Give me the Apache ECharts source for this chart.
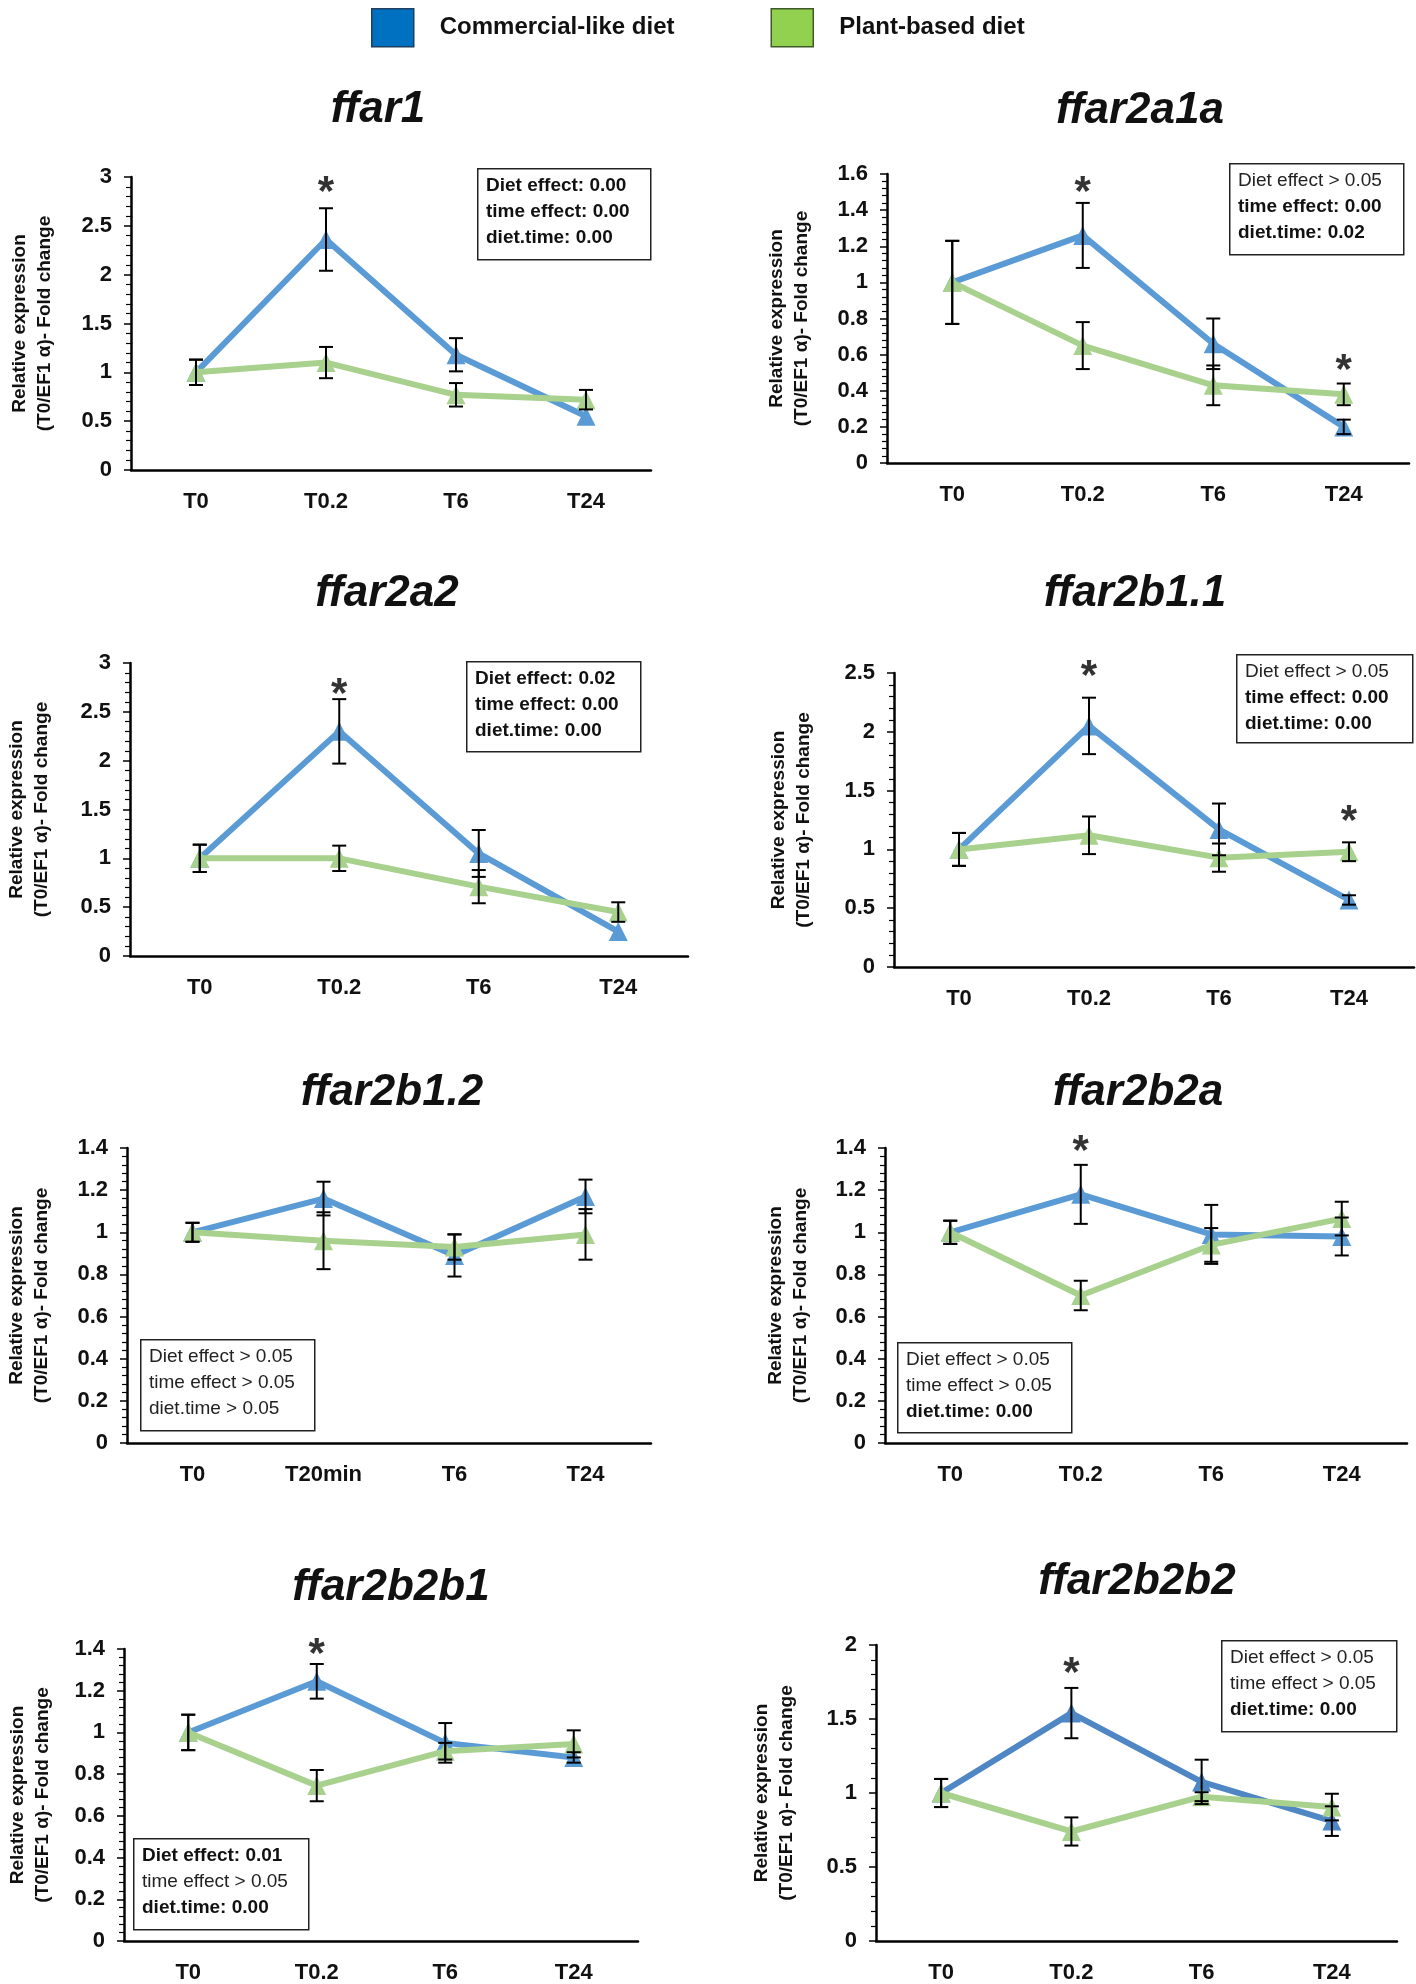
<!DOCTYPE html>
<html>
<head>
<meta charset="utf-8">
<script src="https://cdn.jsdelivr.net/npm/echarts@6/dist/echarts.min.js"></script>
<style>
html,body{margin:0;padding:0;background:#fff;}
#chart{width:1416px;height:1984px;}
</style>
</head>
<body>
<div id="chart"></div>
<script>
// ---------------- DATA ----------------
const categoriesT = ['T0', 'T0.2', 'T6', 'T24'];
const categoriesMin = ['T0', 'T20min', 'T6', 'T24'];
const seriesNames = ['Commercial-like diet', 'Plant-based diet'];
const geneNames = ['ffar1', 'ffar2a1a', 'ffar2a2', 'ffar2b1.1', 'ffar2b1.2', 'ffar2b2a', 'ffar2b2b1', 'ffar2b2b2'];
const yAxisLabel = 'Relative expression\n(T0/EF1 α)- Fold change';

const yMax = [3, 1.6, 3, 2.5, 1.4, 1.4, 1.4, 2];
const yStep = [0.5, 0.2, 0.5, 0.5, 0.2, 0.2, 0.2, 0.5];

const ffar1Commercial = [1.00, 2.36, 1.18, 0.55];
const ffar1CommercialErr = [0.13, 0.32, 0.17, 0];
const ffar1Plant = [1.00, 1.10, 0.77, 0.72];
const ffar1PlantErr = [0.13, 0.16, 0.12, 0.10];
const ffar1Stars = [[1, 2.92]];
const ffar1Stats = ['Diet effect: 0.00', 'time effect: 0.00', 'diet.time: 0.00'];
const ffar1StatsBold = [true, true, true];

const ffar2a1aCommercial = [1.00, 1.26, 0.66, 0.20];
const ffar2a1aCommercialErr = [0.23, 0.18, 0.14, 0.04];
const ffar2a1aPlant = [1.00, 0.65, 0.43, 0.38];
const ffar2a1aPlantErr = [0.23, 0.13, 0.11, 0.06];
const ffar2a1aStars = [[1, 1.545], [3, 0.555]];
const ffar2a1aStats = ['Diet effect > 0.05', 'time effect: 0.00', 'diet.time: 0.02'];
const ffar2a1aStatsBold = [false, true, true];

const ffar2a2Commercial = [1.00, 2.30, 1.05, 0.25];
const ffar2a2CommercialErr = [0.14, 0.33, 0.24, 0];
const ffar2a2Plant = [1.00, 1.00, 0.71, 0.45];
const ffar2a2PlantErr = [0.14, 0.13, 0.17, 0.10];
const ffar2a2Stars = [[1, 2.76]];
const ffar2a2Stats = ['Diet effect: 0.02', 'time effect: 0.00', 'diet.time: 0.00'];
const ffar2a2StatsBold = [true, true, true];

const ffar2b11Commercial = [1.00, 2.05, 1.17, 0.57];
const ffar2b11CommercialErr = [0.14, 0.24, 0.22, 0.04];
const ffar2b11Plant = [1.00, 1.12, 0.93, 0.98];
const ffar2b11PlantErr = [0.14, 0.16, 0.12, 0.08];
const ffar2b11Stars = [[1, 2.54], [3, 1.31]];
const ffar2b11Stats = ['Diet effect > 0.05', 'time effect: 0.00', 'diet.time: 0.00'];
const ffar2b11StatsBold = [false, true, true];

const ffar2b12Commercial = [1.00, 1.16, 0.89, 1.17];
const ffar2b12CommercialErr = [0.045, 0.08, 0.10, 0.08];
const ffar2b12Plant = [1.00, 0.96, 0.93, 0.99];
const ffar2b12PlantErr = [0.045, 0.135, 0.06, 0.12];
const ffar2b12Stars = [];
const ffar2b12Stats = ['Diet effect > 0.05', 'time effect > 0.05', 'diet.time > 0.05'];
const ffar2b12StatsBold = [false, false, false];

const ffar2b2aCommercial = [1.00, 1.18, 0.99, 0.98];
const ffar2b2aCommercialErr = [0.055, 0.14, 0.14, 0.09];
const ffar2b2aPlant = [1.00, 0.70, 0.94, 1.065];
const ffar2b2aPlantErr = [0.055, 0.07, 0.08, 0.08];
const ffar2b2aStars = [[1, 1.424]];
const ffar2b2aStats = ['Diet effect > 0.05', 'time effect > 0.05', 'diet.time: 0.00'];
const ffar2b2aStatsBold = [false, false, true];

const ffar2b2b1Commercial = [1.00, 1.245, 0.95, 0.88];
const ffar2b2b1CommercialErr = [0.085, 0.083, 0.095, 0.025];
const ffar2b2b1Plant = [1.00, 0.745, 0.91, 0.945];
const ffar2b2b1PlantErr = [0.085, 0.075, 0.04, 0.065];
const ffar2b2b1Stars = [[1, 1.414]];
const ffar2b2b1Stats = ['Diet effect: 0.01', 'time effect > 0.05', 'diet.time: 0.00'];
const ffar2b2b1StatsBold = [true, false, true];

const ffar2b2b2Commercial = [1.00, 1.54, 1.075, 0.81];
const ffar2b2b2CommercialErr = [0.095, 0.17, 0.15, 0.10];
const ffar2b2b2Plant = [1.00, 0.74, 0.975, 0.905];
const ffar2b2b2PlantErr = [0.095, 0.095, 0.03, 0.09];
const ffar2b2b2Stars = [[1, 1.865]];
const ffar2b2b2Stats = ['Diet effect > 0.05', 'time effect > 0.05', 'diet.time: 0.00'];
const ffar2b2b2StatsBold = [false, false, true];

// ---------------- ASSEMBLY ----------------
const panelData = [
  {cats: categoriesT, c: ffar1Commercial, ce: ffar1CommercialErr, p: ffar1Plant, pe: ffar1PlantErr, stars: ffar1Stars, stats: ffar1Stats, bold: ffar1StatsBold},
  {cats: categoriesT, c: ffar2a1aCommercial, ce: ffar2a1aCommercialErr, p: ffar2a1aPlant, pe: ffar2a1aPlantErr, stars: ffar2a1aStars, stats: ffar2a1aStats, bold: ffar2a1aStatsBold},
  {cats: categoriesT, c: ffar2a2Commercial, ce: ffar2a2CommercialErr, p: ffar2a2Plant, pe: ffar2a2PlantErr, stars: ffar2a2Stars, stats: ffar2a2Stats, bold: ffar2a2StatsBold},
  {cats: categoriesT, c: ffar2b11Commercial, ce: ffar2b11CommercialErr, p: ffar2b11Plant, pe: ffar2b11PlantErr, stars: ffar2b11Stars, stats: ffar2b11Stats, bold: ffar2b11StatsBold},
  {cats: categoriesMin, c: ffar2b12Commercial, ce: ffar2b12CommercialErr, p: ffar2b12Plant, pe: ffar2b12PlantErr, stars: ffar2b12Stars, stats: ffar2b12Stats, bold: ffar2b12StatsBold},
  {cats: categoriesT, c: ffar2b2aCommercial, ce: ffar2b2aCommercialErr, p: ffar2b2aPlant, pe: ffar2b2aPlantErr, stars: ffar2b2aStars, stats: ffar2b2aStats, bold: ffar2b2aStatsBold},
  {cats: categoriesT, c: ffar2b2b1Commercial, ce: ffar2b2b1CommercialErr, p: ffar2b2b1Plant, pe: ffar2b2b1PlantErr, stars: ffar2b2b1Stars, stats: ffar2b2b1Stats, bold: ffar2b2b1StatsBold},
  {cats: categoriesT, c: ffar2b2b2Commercial, ce: ffar2b2b2CommercialErr, p: ffar2b2b2Plant, pe: ffar2b2b2PlantErr, stars: ffar2b2b2Stars, stats: ffar2b2b2Stats, bold: ffar2b2b2StatsBold}
];

// layout (pixels): grid, title centre, stats box, y-name gap
const layout = [
  {grid: [131, 177, 520, 293], title: [378, 110], box: [477, 168, 173, 91], nameGap: 74},
  {grid: [887, 174, 522, 289], title: [1140, 111], box: [1229, 163, 174, 91], nameGap: 73},
  {grid: [130, 663, 558, 293], title: [387, 594], box: [466, 661, 174, 90], nameGap: 76},
  {grid: [894, 673, 520, 294], title: [1135, 594], box: [1236, 654, 176, 88], nameGap: 78},
  {grid: [127, 1148, 524, 295], title: [392, 1093], box: [140, 1339, 174, 91], nameGap: 73},
  {grid: [885, 1148, 522, 295], title: [1138, 1093], box: [897, 1342, 174, 90], nameGap: 72},
  {grid: [124, 1649, 514, 292], title: [391, 1588], box: [133, 1838, 175, 91], nameGap: 69},
  {grid: [876, 1645, 521, 296], title: [1137, 1582], box: [1221, 1640, 175, 91], nameGap: 77}
];

const FONT = "'Liberation Sans', Arial, sans-serif";
const BLUE = '#5b9bd5';
const BLUE_DARK = '#4f86c4';
const GREEN = '#a9d18e';

function renderErr(params, api) {
  const i = api.value(0), v = api.value(1), e = api.value(2);
  if (!e) return null;
  const top = api.coord([i, v + e]);
  const bot = api.coord([i, v - e]);
  const x = top[0], hw = 7;
  const st = {stroke: '#000', lineWidth: 2};
  return {type: 'group', children: [
    {type: 'line', shape: {x1: x, y1: top[1], x2: x, y2: bot[1]}, style: st},
    {type: 'line', shape: {x1: x - hw, y1: top[1], x2: x + hw, y2: top[1]}, style: st},
    {type: 'line', shape: {x1: x - hw, y1: bot[1], x2: x + hw, y2: bot[1]}, style: st}
  ]};
}

const grids = [], xAxes = [], yAxes = [], series = [], titles = [], graphics = [];

panelData.forEach((pd, k) => {
  const L = layout[k];
  grids.push({left: L.grid[0], top: L.grid[1], width: L.grid[2], height: L.grid[3], containLabel: false});
  xAxes.push({
    type: 'category', gridIndex: k, data: pd.cats, boundaryGap: true,
    axisLine: {show: true, lineStyle: {color: '#000', width: 2.5}},
    axisTick: {show: false},
    axisLabel: {margin: 21, fontSize: 22, fontWeight: 'bold', color: '#111', fontFamily: FONT, interval: 0},
    splitLine: {show: false}
  });
  yAxes.push({
    type: 'value', gridIndex: k, min: 0, max: yMax[k], interval: yStep[k],
    name: yAxisLabel, nameLocation: 'middle', nameGap: L.nameGap, nameRotate: 90,
    nameTextStyle: {fontSize: 19, fontWeight: 'bold', color: '#111', fontFamily: FONT, lineHeight: 25, align: 'center'},
    axisLine: {show: true, lineStyle: {color: '#000', width: 2.5}},
    axisTick: {show: true, inside: false, length: 7, lineStyle: {color: '#000', width: 1.5}},
    minorTick: {show: true, splitNumber: 5, length: 5, lineStyle: {color: '#000', width: 1.2}},
    axisLabel: {margin: 19, fontSize: 22, fontWeight: 'bold', color: '#111', fontFamily: FONT},
    splitLine: {show: false}
  });
  const blue = (k === 7) ? BLUE_DARK : BLUE;
  series.push({
    name: seriesNames[0], type: 'line', xAxisIndex: k, yAxisIndex: k, data: pd.c,
    symbol: 'triangle', symbolSize: 19, lineStyle: {color: blue, width: 6},
    itemStyle: {color: blue}, z: 2, animation: false, clip: false
  });
  series.push({
    name: seriesNames[1], type: 'line', xAxisIndex: k, yAxisIndex: k, data: pd.p,
    symbol: 'triangle', symbolSize: 19, lineStyle: {color: GREEN, width: 6},
    itemStyle: {color: GREEN}, z: 3, animation: false, clip: false
  });
  series.push({
    type: 'custom', xAxisIndex: k, yAxisIndex: k, renderItem: renderErr, z: 4,
    dimensions: ['x', 'y', 'err'], encode: {x: 0, y: 1},
    data: pd.c.map((v, i) => [i, v, pd.ce[i]]), animation: false, clip: false, silent: true
  });
  series.push({
    type: 'custom', xAxisIndex: k, yAxisIndex: k, renderItem: renderErr, z: 5,
    dimensions: ['x', 'y', 'err'], encode: {x: 0, y: 1},
    data: pd.p.map((v, i) => [i, v, pd.pe[i]]), animation: false, clip: false, silent: true
  });
  if (pd.stars.length) {
    series.push({
      type: 'scatter', xAxisIndex: k, yAxisIndex: k, data: pd.stars, symbolSize: 1,
      itemStyle: {color: 'rgba(0,0,0,0)'}, clip: false, animation: false, silent: true, z: 6,
      label: {show: true, position: 'inside', formatter: '*', fontSize: 42, fontWeight: 'bold', color: '#000',
              fontFamily: FONT, offset: [0, 9]}
    });
  }
  titles.push({
    text: geneNames[k], left: L.title[0], top: L.title[1], textAlign: 'center', textVerticalAlign: 'middle',
    padding: 0,
    textStyle: {fontSize: 44, fontWeight: 'bold', fontStyle: 'italic', color: '#111', fontFamily: FONT}
  });
  const b = L.box;
  graphics.push({type: 'rect', left: b[0], top: b[1], shape: {width: b[2], height: b[3]},
                 style: {fill: '#fff', stroke: '#222', lineWidth: 1.5}, z: 10});
  pd.stats.forEach((t, j) => {
    graphics.push({type: 'text', x: b[0] + 9, y: b[1] + 18 + j * 26, z: 11,
      style: {text: t, fontSize: 19, fontWeight: pd.bold[j] ? 'bold' : 'normal',
              fill: pd.bold[j] ? '#111' : '#222', fontFamily: FONT,
              textAlign: 'left', textVerticalAlign: 'middle'}});
  });
});

const chart = echarts.init(document.getElementById('chart'), null, {renderer: 'canvas'});
chart.setOption({
  backgroundColor: '#fff',
  animation: false,
  title: titles,
  legend: {
    left: 366, top: 3, itemWidth: 42, itemHeight: 38, itemGap: 96, icon: 'rect', selectedMode: false,
    textStyle: {fontSize: 24, fontWeight: 'bold', color: '#111', fontFamily: FONT, padding: [0, 0, 0, 21]},
    data: [
      {name: seriesNames[0], itemStyle: {color: '#0070c0', borderColor: '#1f3f60', borderWidth: 1.5}},
      {name: seriesNames[1], itemStyle: {color: '#92d050', borderColor: '#3f5a2a', borderWidth: 1.5}}
    ]
  },
  grid: grids,
  xAxis: xAxes,
  yAxis: yAxes,
  series: series,
  graphic: graphics
});
</script>
</body>
</html>
